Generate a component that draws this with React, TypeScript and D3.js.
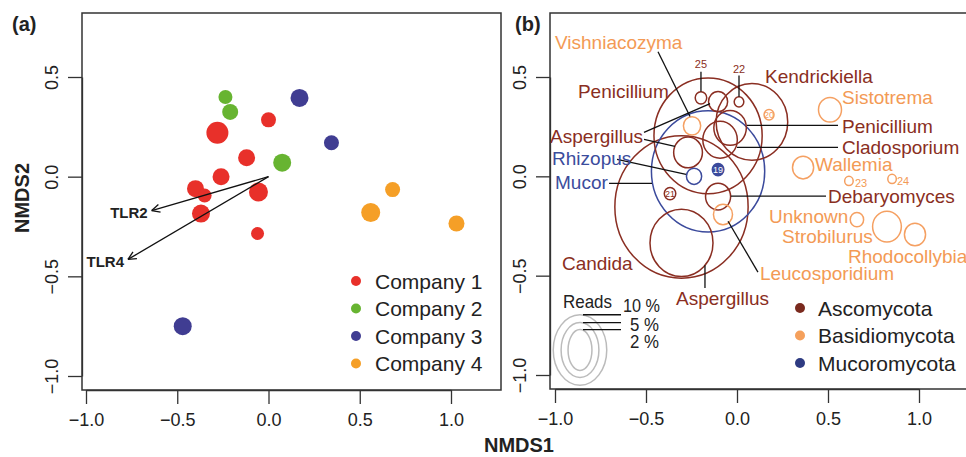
import React, { useRef, useEffect } from "react";
import * as d3 from "d3";

// ---------- panel (a): site scores ----------
const companies = ["Company 1", "Company 2", "Company 3", "Company 4"];
const siteX = [-0.236, -0.21, 0.17, 0.0, -0.28, 0.345, -0.12, 0.075, -0.26, -0.4, -0.35, -0.055, 0.68, -0.37, 0.56, 1.03, -0.06, -0.47];
const siteY = [0.40, 0.325, 0.395, 0.285, 0.22, 0.17, 0.095, 0.07, 0.0, -0.06, -0.095, -0.077, -0.065, -0.185, -0.18, -0.235, -0.285, -0.75];
const siteCompany = [1, 1, 2, 0, 0, 2, 0, 1, 0, 0, 0, 0, 3, 0, 3, 3, 0, 2];
const siteWeight = [7, 8, 9, 7.5, 11, 7.5, 8.5, 9, 8.5, 8.5, 7, 9.5, 7.5, 9, 9.5, 8, 6.5, 9];

// fitted vectors
const vectorNames = ["TLR2", "TLR4"];
const vectorX = [-0.64, -0.77];
const vectorY = [-0.17, -0.415];

// ---------- panel (b): genus bubbles ----------
const phyla = ["Ascomycota", "Basidiomycota", "Mucoromycota"];
const bubbleTaxa = ["Candida", "Mucor", "Penicillium", "Kendrickiella", "Aspergillus", "Cladosporium", "Penicillium", "Aspergillus", "Debaryomyces", "Penicillium", "Leucosporidium", "Vishniacozyma", "Rhizopus", "25", "22", "20", "19", "21", "Sistotrema", "Wallemia", "23", "24", "Unknown", "Strobilurus", "Rhodocollybia"];
const bubblePhylum = [0, 2, 0, 0, 0, 0, 0, 0, 0, 0, 1, 1, 2, 0, 0, 1, 2, 0, 1, 1, 1, 1, 1, 1, 1];
const bubbleX = [-0.305, -0.159, -0.159, 0.082, -0.305, -0.093, -0.038, -0.269, -0.104, -0.104, -0.077, -0.247, -0.236, -0.198, 0.011, 0.176, -0.104, -0.368, 0.511, 0.363, 0.615, 0.852, 0.659, 0.824, 0.978];
const bubbleY = [-0.154, 0.025, 0.204, 0.274, -0.335, 0.184, 0.244, 0.12, -0.102, 0.376, -0.192, 0.254, 0.0, 0.395, 0.375, 0.31, 0.034, -0.087, 0.335, 0.044, -0.023, -0.013, -0.218, -0.253, -0.293];
const bubbleReads = [53.7, 38.8, 35.4, 15.5, 12.0, 3.6, 3.2, 2.5, 1.9, 1.1, 1.1, 0.9, 0.7, 0.4, 0.28, 0.3, 0.4, 0.4, 1.6, 1.35, 0.22, 0.22, 0.54, 2.5, 1.35];
const numberedInside = ["20", "19", "21"];
const filledInside = ["19"];

// text labels of panel (b)
const labelText = ["Vishniacozyma", "25", "22", "Kendrickiella", "Penicillium", "Sistotrema", "Penicillium", "Cladosporium", "Aspergillus", "Rhizopus", "Mucor", "Wallemia", "23", "24", "Debaryomyces", "Unknown", "Strobilurus", "Rhodocollybia", "Candida", "Leucosporidium", "Aspergillus"];
const labelPhylum = [1, 0, 0, 0, 0, 1, 0, 0, 0, 2, 2, 1, 1, 1, 0, 1, 1, 1, 0, 1, 0];
const labelX = [-1.0, -0.198, 0.011, 0.154, -0.874, 0.577, 0.577, 0.577, -1.027, -1.016, -1.0, 0.429, 0.648, 0.879, 0.5, 0.176, 0.247, 0.61, -0.962, 0.126, -0.335];
const labelY = [0.677, 0.567, 0.542, 0.502, 0.427, 0.401, 0.251, 0.146, 0.2, 0.09, -0.03, 0.06, -0.035, -0.022, -0.1, -0.2, -0.301, -0.401, -0.437, -0.487, -0.612];
const labelSmall = ["25", "22", "23", "24"];

// leader lines [x1, y1, x2, y2]
const leaders = [
  [-0.434, 0.627, -0.258, 0.301],
  [-0.198, 0.527, -0.198, 0.427],
  [0.011, 0.507, 0.011, 0.401],
  [0.055, 0.256, 0.555, 0.256],
  [0.0, 0.146, 0.555, 0.146],
  [-0.511, 0.221, -0.148, 0.366],
  [-0.511, 0.186, -0.341, 0.151],
  [-0.659, 0.085, -0.28, 0.01],
  [-0.703, -0.035, -0.467, -0.035],
  [-0.033, -0.1, 0.489, -0.1],
  [-0.049, -0.226, 0.115, -0.482],
  [-0.176, -0.447, -0.176, -0.562],
];

const readsLegend = [10, 5, 2];

const FONT = "'Liberation Sans', Arial, sans-serif";
const companyColors = ["#e8302a", "#67b431", "#403d92", "#f59f27"];
const phylumStroke = ["#8a2e22", "#f5a062", "#3b4a9c"];
const phylumText = ["#8a2e22", "#f39a55", "#3b4c9c"];
const phylumDot = ["#7a2a1e", "#f5a05c", "#2e3b82"];

function drawAxes(g: any, x: any, y: any, box: any) {
  const xa = g
    .append("g")
    .attr("transform", "translate(0," + box.y1 + ")")
    .call(d3.axisBottom(x).tickValues([-1, -0.5, 0, 0.5, 1]).tickFormat(d3.format(".1f")).tickSize(14).tickSizeOuter(0).tickPadding(9));
  xa.attr("font-size", 18).attr("font-family", FONT);
  xa.selectAll("line").attr("stroke", "#333").attr("stroke-width", 1.3);
  xa.select(".domain").attr("stroke", "#333").attr("stroke-width", 1.3);
  xa.selectAll("text").attr("fill", "#222");

  const ya = g
    .append("g")
    .attr("transform", "translate(" + box.x0 + ",0)")
    .call(d3.axisLeft(y).tickValues([-1, -0.5, 0, 0.5]).tickFormat(d3.format(".1f")).tickSize(14).tickSizeOuter(0));
  ya.attr("font-size", 18).attr("font-family", FONT);
  ya.selectAll("line").attr("stroke", "#333").attr("stroke-width", 1.3);
  ya.select(".domain").attr("stroke", "#333").attr("stroke-width", 1.3);
  ya.selectAll("text")
    .attr("fill", "#222")
    .attr("transform", "rotate(-90)")
    .attr("x", 0)
    .attr("y", -24)
    .attr("dy", 0)
    .attr("text-anchor", "middle");

  // plot box
  g.append("rect")
    .attr("x", box.x0)
    .attr("y", box.y0)
    .attr("width", box.x1 - box.x0)
    .attr("height", box.y1 - box.y0)
    .attr("fill", "none")
    .attr("stroke", "#333")
    .attr("stroke-width", 1.5);
}

function App() {
  const ref = useRef<SVGSVGElement | null>(null);

  useEffect(() => {
    const svg = d3.select(ref.current);
    svg.selectAll("*").remove();

    // ======== panel (a) ========
    const boxA = { x0: 82, x1: 501, y0: 13, y1: 390 };
    const xA = d3.scaleLinear().domain([-1, 1]).range([86, 451]);
    const yA = d3.scaleLinear().domain([-1, 0.5]).range([376, 77]);
    const sizeA = d3.scaleLinear().domain([6, 11]).range([6, 11]);

    const gA = svg.append("g");
    drawAxes(gA, xA, yA, boxA);

    gA.selectAll("circle.site")
      .data(siteX.map((v, i) => i))
      .enter()
      .append("circle")
      .attr("class", "site")
      .attr("cx", (i) => xA(siteX[i]))
      .attr("cy", (i) => yA(siteY[i]))
      .attr("r", (i) => sizeA(siteWeight[i]))
      .attr("fill", (i) => companyColors[siteCompany[i]]);

    // vectors
    vectorNames.forEach((name, i) => {
      const x0 = xA(0), y0 = yA(0);
      const x1 = xA(vectorX[i]), y1 = yA(vectorY[i]);
      gA.append("line")
        .attr("x1", x0).attr("y1", y0).attr("x2", x1).attr("y2", y1)
        .attr("stroke", "#111").attr("stroke-width", 1.3);
      const ang = Math.atan2(y0 - y1, x0 - x1);
      [-0.45, 0.45].forEach((da) => {
        gA.append("line")
          .attr("x1", x1).attr("y1", y1)
          .attr("x2", x1 + 9 * Math.cos(ang + da))
          .attr("y2", y1 + 9 * Math.sin(ang + da))
          .attr("stroke", "#111").attr("stroke-width", 1.3);
      });
      gA.append("text")
        .attr("x", x1 - 4)
        .attr("y", y1 + 2)
        .attr("dy", "0.35em")
        .attr("text-anchor", "end")
        .attr("font-family", FONT)
        .attr("font-weight", "bold")
        .attr("font-size", 15)
        .attr("fill", "#222")
        .text(name);
    });

    // legend (a)
    companies.forEach((c, i) => {
      const ly = 281 + i * 27.5;
      gA.append("circle").attr("cx", 356).attr("cy", ly).attr("r", 5).attr("fill", companyColors[i]);
      gA.append("text")
        .attr("x", 375).attr("y", ly).attr("dy", "0.36em")
        .attr("font-family", FONT).attr("font-size", 21).attr("fill", "#222")
        .text(c);
    });

    // ======== panel (b) ========
    const boxB = { x0: 550, x1: 1000, y0: 13, y1: 389 };
    const xB = d3.scaleLinear().domain([-1, 1]).range([555, 919]);
    const yB = d3.scaleLinear().domain([-1, 0.5]).range([375, 77]);
    // bubble radius in data units (circles drawn in NMDS space)
    const rB = d3.scaleSqrt().domain([0, 10]).range([0, 0.158]);
    const rx = (p: number) => xB(rB(p)) - xB(0);
    const ry = (p: number) => (yB(0) - yB(rB(p))) * 0.98;

    const gB = svg.append("g");
    drawAxes(gB, xB, yB, boxB);

    gB.selectAll("ellipse.bubble")
      .data(bubbleX.map((v, i) => i))
      .enter()
      .append("ellipse")
      .attr("class", "bubble")
      .attr("cx", (i) => xB(bubbleX[i]))
      .attr("cy", (i) => yB(bubbleY[i]))
      .attr("rx", (i) => rx(bubbleReads[i]))
      .attr("ry", (i) => ry(bubbleReads[i]))
      .attr("fill", (i) => (filledInside.indexOf(bubbleTaxa[i]) >= 0 ? phylumStroke[bubblePhylum[i]] : "none"))
      .attr("stroke", (i) => phylumStroke[bubblePhylum[i]])
      .attr("stroke-width", 1.5);

    bubbleTaxa.forEach((t, i) => {
      if (numberedInside.indexOf(t) < 0) return;
      const filled = filledInside.indexOf(t) >= 0;
      gB.append("text")
        .attr("x", xB(bubbleX[i])).attr("y", yB(bubbleY[i])).attr("dy", "0.35em")
        .attr("text-anchor", "middle")
        .attr("font-family", FONT).attr("font-size", 9)
        .attr("fill", filled ? "#fff" : phylumStroke[bubblePhylum[i]])
        .text(t);
    });

    leaders.forEach((l) => {
      gB.append("line")
        .attr("x1", xB(l[0])).attr("y1", yB(l[1]))
        .attr("x2", xB(l[2])).attr("y2", yB(l[3]))
        .attr("stroke", "#111").attr("stroke-width", 1.3);
    });

    labelText.forEach((t, i) => {
      const small = labelSmall.indexOf(t) >= 0;
      const centered = t === "25" || t === "22";
      gB.append("text")
        .attr("x", xB(labelX[i])).attr("y", yB(labelY[i])).attr("dy", "0.36em")
        .attr("text-anchor", centered ? "middle" : "start")
        .attr("font-family", FONT)
        .attr("font-size", small ? 11 : 19)
        .attr("fill", phylumText[labelPhylum[i]])
        .text(t);
    });

    // reads size legend
    const cx = 580, cy = 350;
    gB.append("text")
      .attr("x", 563).attr("y", 301).attr("dy", "0.36em")
      .attr("font-family", FONT).attr("font-size", 19)
      .attr("textLength", 49).attr("lengthAdjust", "spacingAndGlyphs")
      .attr("fill", "#222").text("Reads");
    const legY = [306, 324.5, 341.5];
    readsLegend.forEach((p, i) => {
      const ex = rx(p) * 0.93;
      const ey = ex + 8.5;
      gB.append("ellipse")
        .attr("cx", cx).attr("cy", cy).attr("rx", ex).attr("ry", ey)
        .attr("fill", "none").attr("stroke", "#bbb").attr("stroke-width", 1.5);
      gB.append("line")
        .attr("x1", cx + 3).attr("y1", cy - ey).attr("x2", 621).attr("y2", cy - ey)
        .attr("stroke", "#111").attr("stroke-width", 1.3);
      gB.append("text")
        .attr("x", i === 0 ? 623 : 630)
        .attr("y", legY[i]).attr("dy", "0.36em")
        .attr("font-family", FONT).attr("font-size", 18)
        .attr("textLength", i === 0 ? 37 : 29).attr("lengthAdjust", "spacingAndGlyphs")
        .attr("fill", "#222").text(p + " %");
    });

    // legend (b)
    phyla.forEach((p, i) => {
      const ly = 308 + i * 27.5;
      gB.append("circle").attr("cx", 800).attr("cy", ly).attr("r", 5).attr("fill", phylumDot[i]);
      gB.append("text")
        .attr("x", 818).attr("y", ly).attr("dy", "0.36em")
        .attr("font-family", FONT).attr("font-size", 21).attr("fill", "#222")
        .text(p);
    });

    // ======== titles ========
    svg.append("text").attr("x", 12).attr("y", 31)
      .attr("font-family", FONT).attr("font-weight", "bold").attr("font-size", 20).attr("fill", "#222").text("(a)");
    svg.append("text").attr("x", 515).attr("y", 31)
      .attr("font-family", FONT).attr("font-weight", "bold").attr("font-size", 20).attr("fill", "#222").text("(b)");
    svg.append("text").attr("x", 519).attr("y", 452)
      .attr("text-anchor", "middle")
      .attr("font-family", FONT).attr("font-weight", "bold").attr("font-size", 20).attr("fill", "#222").text("NMDS1");
    svg.append("text")
      .attr("transform", "translate(29,198) rotate(-90)")
      .attr("text-anchor", "middle")
      .attr("font-family", FONT).attr("font-weight", "bold").attr("font-size", 20).attr("fill", "#222").text("NMDS2");
  }, []);

  return (
    <svg
      ref={ref}
      width={966}
      height={457}
      style={{ position: "absolute", left: 0, top: 0, background: "#fff" }}
    />
  );
}

export default App;
